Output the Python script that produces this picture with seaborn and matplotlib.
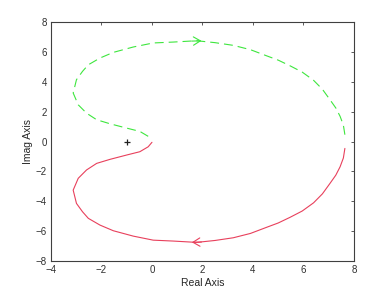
import matplotlib
matplotlib.use("Agg")
import matplotlib.pyplot as plt
import seaborn as sns
import pandas as pd

sns.set_theme(style="white")
plt.rcParams['font.family'] = ['Liberation Sans', 'DejaVu Sans']

# positive-frequency branch (red, solid)
red_re = [0.0, -0.15, -0.48, -1.0, -1.66, -2.19, -2.59, -2.92, -3.12, -2.99, -2.75, -2.52,
          -2.06, -1.53, -0.74, 0.05, 0.84, 1.77, 2.5, 3.22, 3.9, 4.54, 5.0, 5.47, 5.95,
          6.4, 6.75, 7.05, 7.28, 7.45, 7.58, 7.64]
red_im = [-0.05, -0.35, -0.68, -0.9, -1.19, -1.46, -1.9, -2.46, -3.25, -4.14, -4.7, -5.14,
          -5.59, -5.97, -6.33, -6.6, -6.66, -6.75, -6.62, -6.44, -6.15, -5.74, -5.45, -5.07, -4.65,
          -4.1, -3.5, -2.8, -2.25, -1.69, -1.1, -0.46]
# negative-frequency branch (green, dashed)
green_re = [7.64, 7.58, 7.45, 7.28, 7.05, 6.75, 6.4, 5.95, 5.47, 5.0, 4.54, 3.9, 3.22, 2.5,
            1.77, 0.84, 0.05, -0.74, -1.53, -2.06, -2.52, -2.75, -2.99, -3.12, -2.92, -2.59,
            -2.19, -1.66, -1.0, -0.48, -0.15, 0.0]
green_im = [0.46, 1.1, 1.69, 2.25, 2.8, 3.5, 4.1, 4.65, 5.07, 5.45, 5.74, 6.15, 6.44, 6.62,
            6.75, 6.66, 6.6, 6.33, 5.97, 5.59, 5.14, 4.7, 4.14, 3.25, 2.46, 1.9,
            1.46, 1.19, 0.9, 0.68, 0.35, 0.2]
x_ticks = [-4, -2, 0, 2, 4, 6, 8]
y_ticks = [-8, -6, -4, -2, 0, 2, 4, 6, 8]

red = "#e8405c"
green = "#3ee63e"
grey = "#404040"

fig = plt.figure(figsize=(3.92, 2.94), dpi=100)
ax = fig.add_axes([0.130, 0.112, 0.773, 0.813])

dr = pd.DataFrame({"re": red_re, "im": red_im})
dg = pd.DataFrame({"re": green_re, "im": green_im})
sns.lineplot(data=dr, x="re", y="im", sort=False, color=red, lw=0.8, ax=ax)
sns.lineplot(data=dg, x="re", y="im", sort=False, color=green, lw=0.8, ax=ax,
             dashes=False, linestyle=(0, (8, 4.5)))

ax.annotate("", xy=(red_re[17] - 0.3, red_im[17]), xytext=(red_re[17] + 0.3, red_im[17] + 0.03),
            arrowprops=dict(arrowstyle="->,head_length=0.5,head_width=0.3", color=red, lw=0.8,
                            mutation_scale=10))
ax.annotate("", xy=(green_re[14] + 0.3, green_im[14]), xytext=(green_re[14] - 0.3, green_im[14] - 0.03),
            arrowprops=dict(arrowstyle="->,head_length=0.5,head_width=0.3", color=green, lw=0.8,
                            mutation_scale=10))
ax.plot([-1], [0], marker="+", color="#202020", ms=5, mew=0.9)

ax.set_xlim(-4, 8)
ax.set_ylim(-8, 8)
ax.set_xticks(x_ticks)
ax.set_yticks(y_ticks)
ax.tick_params(direction="in", length=2.5, width=0.6, colors=grey, labelsize=7,
               top=True, right=True, labeltop=False, labelright=False, pad=3)
ax.tick_params(axis="both", labelcolor="#303030")
for s in ax.spines.values():
    s.set_color(grey)
    s.set_linewidth(0.8)
ax.set_xlabel("Real Axis", fontsize=7.5, color="#262626", labelpad=2)
ax.set_ylabel("Imag Axis", fontsize=7.5, color="#262626", labelpad=2)

fig.savefig("out.png", dpi=100)
